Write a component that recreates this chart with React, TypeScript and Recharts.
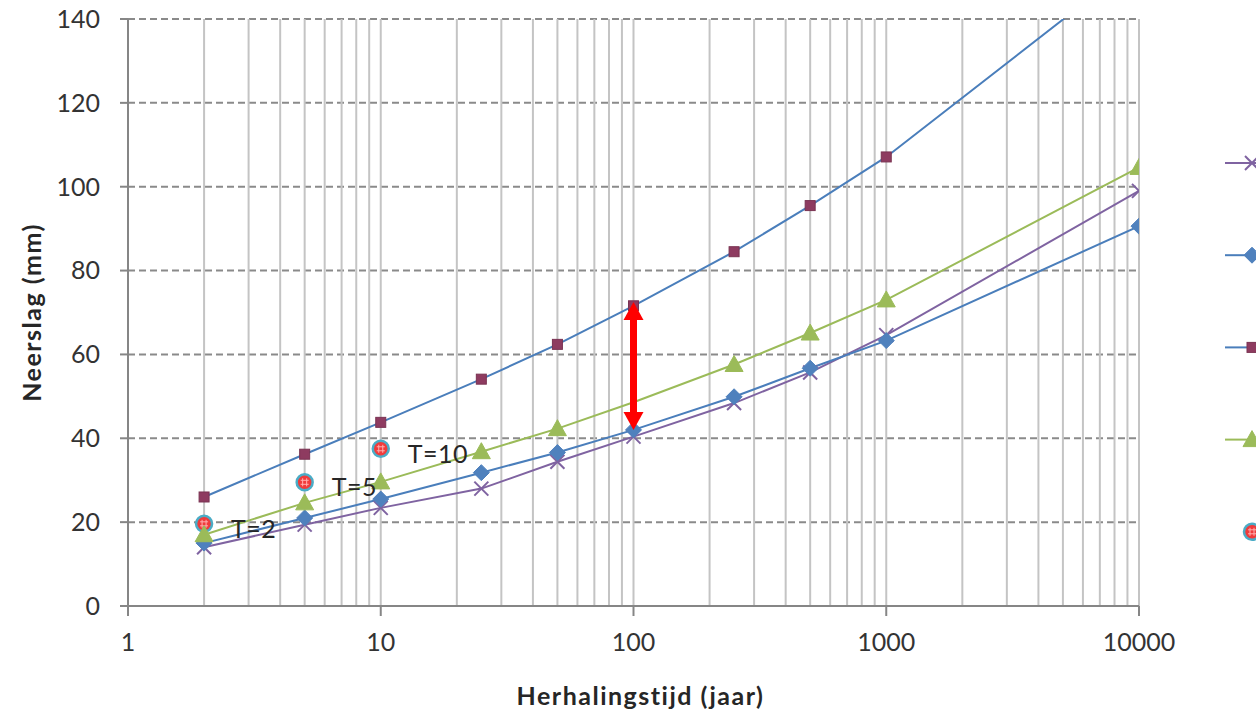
import React from 'react';
import {
  ComposedChart, Line, Scatter, XAxis, YAxis, CartesianGrid, ReferenceLine, Legend, LabelList,
} from 'recharts';

// ---- data ----
const years = [2, 5, 10, 25, 50, 100, 250, 500, 1000, 10000];
const seriesCross = [14, 19.4, 23.4, 28, 34.4, 40.4, 48.4, 55.7, 64.6, 99];
const seriesDiamond = [15, 21, 25.5, 31.8, 36.6, 42, 49.9, 56.7, 63.3, 90.6];
const seriesSquare = [26, 36.2, 43.8, 54.1, 62.4, 71.6, 84.5, 95.5, 107.1, 154];
const seriesTriangle = [17, 24.6, 29.6, 36.8, 42.3, 48.6, 57.6, 65.1, 73, 104.6];
// the triangle marker at T=100 is hidden under the arrow in the reference
const triangleNoMarker = [100];

const obsYears = [2, 5, 10];
const obsValues = [19.6, 29.5, 37.5];
const obsLabels = ['T=2', 'T=5', 'T=10'];

const xTicks = [1, 10, 100, 1000, 10000];
const yTicks = [0, 20, 40, 60, 80, 100, 120, 140];
const gridYears = [2, 3, 4, 5, 6, 7, 8, 9, 10, 20, 30, 40, 50, 60, 70, 80, 90, 100,
  200, 300, 400, 500, 600, 700, 800, 900, 1000, 2000, 3000, 4000, 5000, 6000, 7000, 8000, 9000, 10000];

const arrowYear = 100;
const arrowFrom = 42;
const arrowTo = 72.5;

const xTitle = 'Herhalingstijd (jaar)';
const yTitle = 'Neerslag (mm)';

// ---- colours ----
const C_PURPLE = '#7f63a1';
const C_BLUE = '#4a7ebb';
const C_DIAMOND = '#4f81bd';
const C_SQUARE = '#8e3b60';
const C_GREEN = '#9bbb59';
const C_RED = '#f03b3b';
const C_CYAN = '#4bacc6';
const FONT = 'Lato, "Open Sans", sans-serif';

const data = years.map((y, i) => ({
  year: y,
  cross: seriesCross[i],
  diamond: seriesDiamond[i],
  square: seriesSquare[i],
  triangle: seriesTriangle[i],
}));
const obsData = obsYears.map((y, i) => ({ year: y, obs: obsValues[i], label: obsLabels[i] }));

// ---- markers ----
const CrossMark = ({ cx, cy }: any) => (
  <g>
    <line x1={cx - 7} y1={cy - 7} x2={cx + 7} y2={cy + 7} stroke={C_PURPLE} strokeWidth={2} />
    <line x1={cx - 7} y1={cy + 7} x2={cx + 7} y2={cy - 7} stroke={C_PURPLE} strokeWidth={2} />
  </g>
);
const DiamondMark = ({ cx, cy }: any) => (
  <polygon points={`${cx},${cy - 8} ${cx + 8},${cy} ${cx},${cy + 8} ${cx - 8},${cy}`} fill={C_DIAMOND} stroke={C_DIAMOND} strokeWidth={1} />
);
const SquareMark = ({ cx, cy }: any) => (
  <rect x={cx - 5} y={cy - 5} width={10} height={10} fill={C_SQUARE} stroke="#7a3352" strokeWidth={1} />
);
const TriangleMark = ({ cx, cy }: any) => (
  <polygon points={`${cx},${cy - 9} ${cx + 9},${cy + 7} ${cx - 9},${cy + 7}`} fill={C_GREEN} stroke={C_GREEN} strokeWidth={1} />
);
const CircleMark = ({ cx, cy }: any) => (
  <g>
    <circle cx={cx} cy={cy} r={8} fill={C_RED} stroke={C_CYAN} strokeWidth={2.5} />
    <line x1={cx - 4} y1={cy - 2} x2={cx + 4} y2={cy - 2} stroke="#ffb0b0" strokeWidth={1} />
    <line x1={cx - 4} y1={cy + 2} x2={cx + 4} y2={cy + 2} stroke="#ffb0b0" strokeWidth={1} />
    <line x1={cx - 2} y1={cy - 4} x2={cx - 2} y2={cy + 4} stroke="#ffb0b0" strokeWidth={1} />
    <line x1={cx + 2} y1={cy - 4} x2={cx + 2} y2={cy + 4} stroke="#ffb0b0" strokeWidth={1} />
  </g>
);

const dotFn = (Mark: any, name: string, skip: number[] = []) => (p: any) => {
  if (p.cx == null || p.cy == null || (p.payload && skip.includes(p.payload.year))) {
    return <g key={`${name}-${p.index}`} />;
  }
  return <Mark key={`${name}-${p.index}`} cx={p.cx} cy={p.cy} />;
};

const ArrowShape = (p: any) => {
  const { x1, y1, x2, y2 } = p;
  const top = Math.min(y1, y2);
  const bot = Math.max(y1, y2);
  const x = x1;
  const hl = 18;
  const hw = 10;
  return (
    <g>
      <line x1={x} y1={top + hl - 2} x2={x} y2={bot - hl + 2} stroke="#ff0000" strokeWidth={7} />
      <polygon points={`${x},${top} ${x + hw},${top + hl} ${x - hw},${top + hl}`} fill="#ff0000" />
      <polygon points={`${x},${bot} ${x + hw},${bot - hl} ${x - hw},${bot - hl}`} fill="#ff0000" />
    </g>
  );
};

const legendMarks = [CrossMark, DiamondMark, SquareMark, TriangleMark, CircleMark];
const legendLineColors = [C_PURPLE, C_BLUE, C_BLUE, C_GREEN, null];

const LegendContent = () => (
  <svg width={31} height={400} style={{ overflow: 'hidden', display: 'block' }}>
    {legendMarks.map((M, i) => {
      const cy = 13 + i * 92.2;
      return (
        <g key={i}>
          {legendLineColors[i] && (
            <line x1={0} y1={cy} x2={31} y2={cy} stroke={legendLineColors[i] as string} strokeWidth={2} />
          )}
          <M cx={27} cy={cy} />
        </g>
      );
    })}
  </svg>
);

const ObsLabel = (p: any) => {
  const { x, y, width, height, value } = p;
  const cx = x + (width || 0) / 2;
  const cy = y + (height || 0) / 2;
  return (
    <text x={cx + 27} y={cy + 4} fontSize={25} letterSpacing={0.5} fontFamily={FONT} fill="#262626" dominantBaseline="central">
      {value}
    </text>
  );
};

export default function App() {
  return (
    <div style={{ position: 'absolute', left: 0, top: 0, background: '#fff' }}>
      <ComposedChart width={1256} height={712} data={data} margin={{ top: 19, right: 117, bottom: 0, left: 0 }}>
        <CartesianGrid horizontal vertical={false} stroke="#8a8a8a" strokeWidth={2} strokeDasharray="7 4" />
        {gridYears.map((g) => (
          <ReferenceLine key={g} x={g} stroke="#c4c4c4" strokeWidth={2} />
        ))}
        <XAxis
          dataKey="year"
          type="number"
          scale="log"
          domain={[1, 10000]}
          ticks={xTicks}
          allowDataOverflow
          height={106}
          stroke="#868686"
          axisLine={{ stroke: '#868686', strokeWidth: 2 }}
          tickLine={{ stroke: '#868686', strokeWidth: 2 }}
          tickSize={10}
          tickMargin={17}
          tick={{ fontSize: 25, fontFamily: FONT, fill: '#333' }}
          label={(lp: any) => {
            const vb = lp.viewBox;
            return (
              <text x={vb.x + vb.width / 2 + 7} y={vb.y + 89} textAnchor="middle" dominantBaseline="central"
                fontSize={25} letterSpacing={1.5} fontWeight="bold" fontFamily={FONT} fill="#262626">{xTitle}</text>
            );
          }}
        />
        <YAxis
          type="number"
          domain={[0, 140]}
          ticks={yTicks}
          allowDataOverflow
          width={128}
          axisLine={{ stroke: '#868686', strokeWidth: 2 }}
          tickLine={{ stroke: '#868686', strokeWidth: 2 }}
          tickSize={8}
          tickMargin={20}
          tick={{ fontSize: 25, fontFamily: FONT, fill: '#333' }}
          label={(lp: any) => {
            const vb = lp.viewBox;
            const cx = 31;
            const cy = vb.y + vb.height / 2;
            return (
              <text x={cx} y={cy} textAnchor="middle" dominantBaseline="central" transform={`rotate(-90, ${cx}, ${cy})`}
                fontSize={25} letterSpacing={1.5} fontWeight="bold" fontFamily={FONT} fill="#262626">{yTitle}</text>
            );
          }}
        />
        <Line dataKey="cross" stroke={C_PURPLE} strokeWidth={2} dot={dotFn(CrossMark, 'c')} isAnimationActive={false} />
        <Line dataKey="diamond" stroke={C_BLUE} strokeWidth={2} dot={dotFn(DiamondMark, 'd')} isAnimationActive={false} />
        <Line dataKey="triangle" stroke={C_GREEN} strokeWidth={2} dot={dotFn(TriangleMark, 't', triangleNoMarker)} isAnimationActive={false} />
        <Line dataKey="square" stroke={C_BLUE} strokeWidth={2} dot={dotFn(SquareMark, 's')} isAnimationActive={false} />
        <Scatter data={obsData} dataKey="obs" shape={(p: any) => <CircleMark cx={p.cx} cy={p.cy} />} isAnimationActive={false}>
          <LabelList dataKey="label" content={ObsLabel} />
        </Scatter>
        <ReferenceLine
          segment={[{ x: arrowYear, y: arrowFrom }, { x: arrowYear, y: arrowTo }]}
          shape={ArrowShape}
          ifOverflow="visible"
          zIndex={2000}
        />
        <Legend
          layout="horizontal"
          verticalAlign="middle"
          align="center"
          content={LegendContent}
          wrapperStyle={{ position: 'absolute', left: 1225, top: 150, width: 31, height: 400 }}
        />
      </ComposedChart>
    </div>
  );
}
